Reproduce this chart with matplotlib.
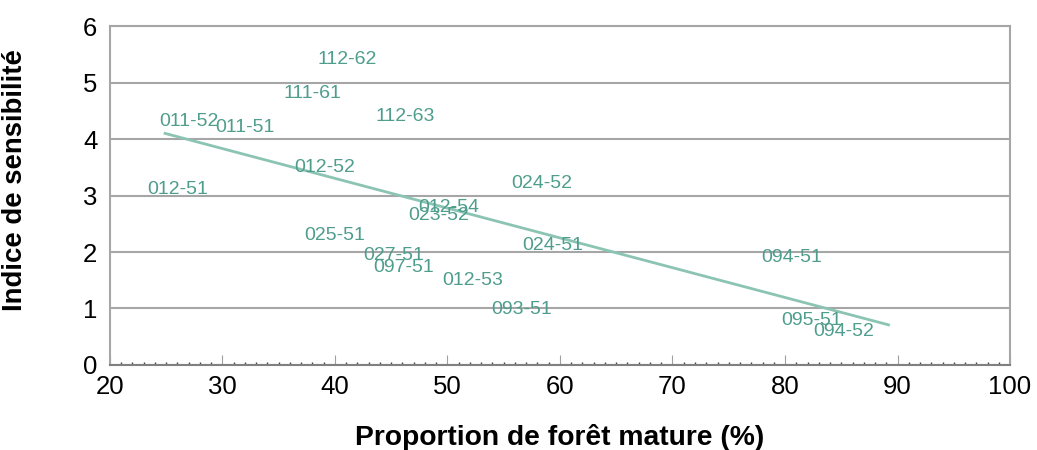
import numpy as np
import matplotlib
matplotlib.use('Agg')
import matplotlib.pyplot as plt
from matplotlib.ticker import MultipleLocator

# Code des unités et valeurs
codes = ['112-62', '111-61', '112-63', '011-52', '011-51', '012-52', '012-51',
         '012-54', '023-52', '024-52', '024-51', '094-51', '012-53', '093-51',
         '095-51', '094-52', '025-51', '027-51', '097-51']
foret = [41.1, 38.0, 46.2, 27.0, 32.0, 39.1, 26.0,
         50.1, 49.2, 58.4, 59.4, 80.6, 52.2, 56.6,
         82.4, 85.2, 40.0, 45.2, 46.1]
indice = [5.40, 4.81, 4.40, 4.31, 4.20, 3.50, 3.11,
          2.79, 2.64, 3.21, 2.12, 1.90, 1.49, 0.99,
          0.79, 0.60, 2.30, 1.93, 1.73]

# Droite de tendance (extrémités)
trend_x = [24.9, 89.2]
trend_y = [4.10, 0.71]

plt.rcParams['font.family'] = ['Liberation Sans', 'DejaVu Sans']

fig = plt.figure(figsize=(10.37, 4.5), dpi=100)
ax = fig.add_axes([0.106, 0.189, 0.868, 0.753])

txt_col = '#4f9d8c'
line_col = '#8cc4b4'
grid_col = '#a6a6a6'

ax.plot(trend_x, trend_y, color=line_col, lw=2.0, zorder=2)
for c, xv, yv in zip(codes, foret, indice):
    ax.text(xv, yv, c, color=txt_col, fontsize=14, ha='center', va='center', zorder=3)

ax.set_xlim(20, 100)
ax.set_ylim(0, 6)
ax.set_xticks(np.arange(20, 101, 10))
ax.set_yticks(np.arange(0, 7, 1))
ax.xaxis.set_minor_locator(MultipleLocator(1))
ax.yaxis.grid(True, color=grid_col, lw=1.5)
ax.set_axisbelow(True)

for s in ['top', 'left', 'right']:
    ax.spines[s].set_color(grid_col)
    ax.spines[s].set_linewidth(1.5)
ax.spines['bottom'].set_color('#808080')
ax.spines['bottom'].set_linewidth(1.5)

ax.tick_params(axis='x', which='major', direction='in', length=7, color='#a0a0a0',
               labelsize=18.5, pad=7)
ax.tick_params(axis='x', which='minor', direction='in', length=2, color='#404040', width=1)
ax.tick_params(axis='y', which='major', length=0, labelsize=18.5, pad=9)

ax.set_xlabel('Proportion de forêt mature (%)', fontsize=20.3, fontweight='bold', labelpad=18)
ax.set_ylabel('Indice de sensibilité', fontsize=19.8, fontweight='bold')
ax.yaxis.set_label_coords(-0.091, 0.546)

fig.savefig('out.png', dpi=100)
